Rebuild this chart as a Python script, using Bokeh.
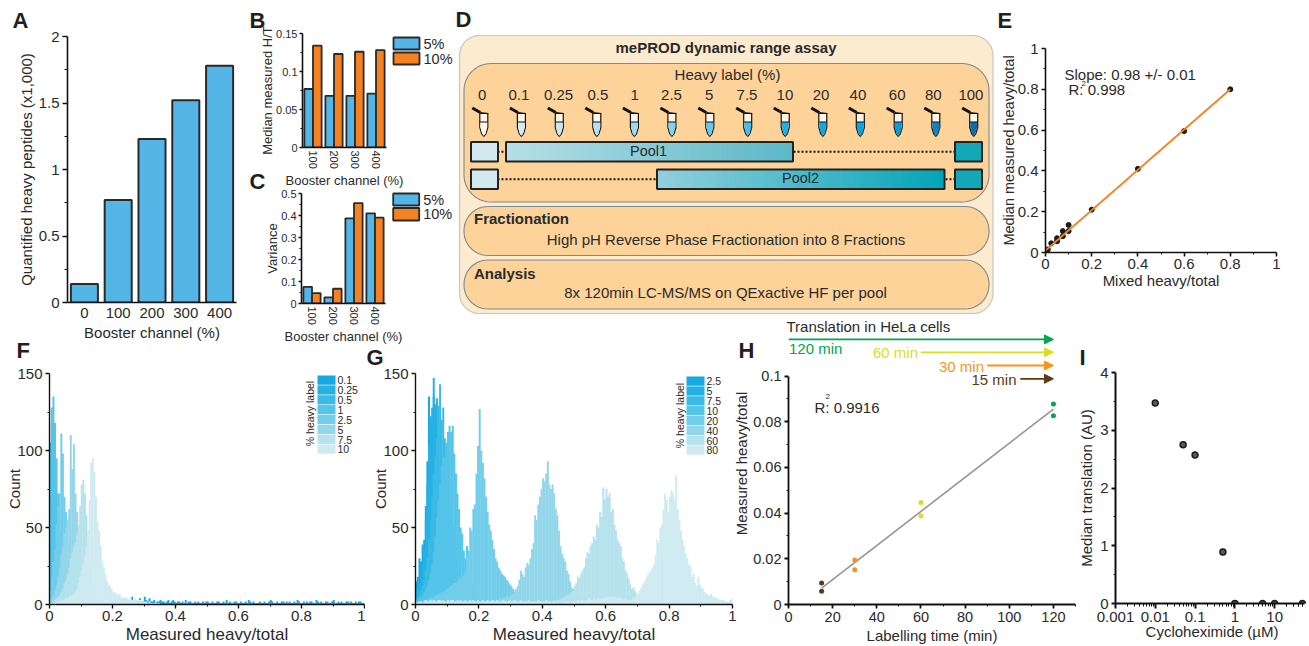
from bokeh.plotting import figure
from bokeh.models import (Column, FactorRange, Range1d, FixedTicker, Arrow, NormalHead)
from bokeh.transform import dodge
from bokeh.core.properties import value
from bokeh.embed import file_html
from bokeh.resources import INLINE
import math

FONT = "Liberation Sans"
INK = "#2a2a2a"
BLUE = "#54b5e7"
ORANGE = "#f58220"

# --- data ------------------------------------------------------------------
a_cats = ["0", "100", "200", "300", "400"]
a_vals = [0.14, 0.77, 1.23, 1.52, 1.78]
bc_cats = ["100", "200", "300", "400"]
b_5 = [0.077, 0.068, 0.068, 0.071]
b_10 = [0.134, 0.123, 0.126, 0.128]
c_5 = [0.076, 0.028, 0.387, 0.41]
c_10 = [0.047, 0.067, 0.456, 0.39]

e_x = [0.001, 0.01, 0.025, 0.05, 0.05, 0.075, 0.075, 0.1, 0.1, 0.2, 0.4, 0.6, 0.8]
e_y = [0.01, 0.015, 0.045, 0.055, 0.07, 0.08, 0.105, 0.105, 0.135, 0.21, 0.41, 0.595, 0.80]
e_fit_x = [0.0, 0.8]
e_fit_y = [0.01, 0.80]

h_t = [15, 15, 30, 30, 60, 60, 120, 120]
h_v = [0.0094, 0.0058, 0.0195, 0.0152, 0.0447, 0.0388, 0.0878, 0.0826]
h_colors = ["#603913", "#603913", "#f7941e", "#f7941e", "#d7df23", "#d7df23", "#00a651", "#00a651"]
h_fit_t = [15, 120]
h_fit_v = [0.0072, 0.0855]

i_x = [0.01, 0.05, 0.1, 0.5, 1, 5, 10, 50]
i_y = [3.47, 2.75, 2.57, 0.89, 0, 0, 0, 0]

BIN = 0.005
hist_colors = ["#17a9e1", "#27b1e3", "#3cbae6", "#55c4e9", "#71cdea", "#93d6ea", "#b5e2ec", "#cfebf1"]

f_labels = ["0.1", "0.25", "0.5", "1", "2.5", "5", "7.5", "10"]
f_01 = [70, 60, 30, 14, 8, 5, 3, 2, 2, 1, 1, 1, 1, 1, 1, 1, 1, 1, 1, 1, 1, 1, 1, 1, 1, 1, 1, 1, 1, 1, 1, 1, 1, 1, 1, 1, 1, 1, 1, 1,
        2, 1, 3, 2, 1, 2, 3, 1, 4, 2, 3, 2, 5, 3, 2, 3, 2, 4, 2, 2, 5, 3, 2, 4, 2, 2, 3, 1, 2, 2, 3, 2, 2, 1, 2, 3, 1, 2, 3, 2,
        1, 2, 2, 1, 2, 1, 3, 1, 2, 2, 1, 1, 2, 1, 2, 1, 1, 2, 1, 2, 2, 1, 1, 2, 1, 1, 2, 2, 1, 1, 2, 1, 3, 1, 2, 1, 1, 2, 2, 1,
        1, 2, 1, 1, 2, 1, 3, 2, 1, 2, 1, 1, 1, 2, 1, 1, 2, 1, 1, 2, 3, 2, 1, 1, 2, 1, 1, 2, 2, 1, 2, 1, 2, 1, 1, 2, 1, 3, 2, 1,
        1, 2, 1, 2, 1, 2, 2, 1, 1, 3, 2, 1, 2, 1, 1, 2, 2, 1, 1, 2, 3, 1, 1, 2, 1, 2, 1, 1, 2, 2, 1, 2, 1, 1, 2, 1, 2, 2, 1, 1]
f_025 = [90, 100, 70, 35, 15, 8, 4, 2, 1, 1]
f_05 = [105, 118, 100, 70, 35, 18, 9, 4, 2, 1]
f_1 = [100, 128, 135, 118, 95, 72, 48, 28, 14, 8, 5, 3, 2, 1]
f_25 = [10, 18, 28, 36, 52, 64, 72, 111, 98, 70, 60, 40, 28, 16, 10, 6, 4, 3, 2, 1]
f_5 = [3, 4, 6, 9, 12, 18, 24, 32, 38, 46, 50, 55, 62, 110, 88, 104, 72, 60, 45, 32, 20, 14, 10, 6, 4, 3, 2, 1]
f_75 = [1, 1, 2, 3, 4, 5, 6, 8, 10, 14, 16, 20, 24, 30, 34, 38, 40, 45, 52, 64, 78, 81, 72, 58, 42, 30, 22, 14, 9, 6, 4, 3, 2, 1]
f_10 = [1, 1, 1, 1, 2, 2, 2, 3, 3, 3, 4, 4, 5, 6, 6, 7, 8, 10, 14, 18, 22, 26, 32, 38, 48, 68, 92, 95, 86, 70, 54, 48, 38, 28,
        24, 20, 15, 13, 12, 10, 8, 8, 7, 6, 7, 5, 4, 5, 4, 4, 3, 4, 3, 3, 4, 3, 2, 3, 2, 2, 2, 2, 1, 2, 1, 1, 1, 1, 1, 1]
f_series = [f_01, f_025, f_05, f_1, f_25, f_5, f_75, f_10]
f_starts = [0, 0, 0, 0, 0, 0, 0, 0]

g_labels = ["2.5", "5", "7.5", "10", "20", "40", "60", "80"]
g_25 = [15, 18, 30, 28, 39, 42, 64, 93, 135, 122, 118, 135, 120, 108, 92, 70, 55, 40, 30, 22, 14, 10, 7, 5, 3, 2, 1, 1]
g_5 = [8, 10, 14, 18, 26, 36, 55, 78, 104, 122, 128, 147, 130, 134, 110, 92, 78, 60, 46, 32, 24, 15, 11, 8, 5, 3, 2, 1]
g_75 = [4, 5, 7, 9, 12, 16, 22, 30, 42, 55, 70, 85, 96, 108, 129, 143, 120, 128, 108, 104, 92, 80, 65, 52, 40, 30, 22, 16, 11, 8, 5, 3, 2, 1, 1]
g_10 = [3, 3, 4, 5, 6, 8, 10, 12, 16, 20, 26, 34, 44, 56, 68, 78, 90, 96, 95, 105, 112, 116, 112, 116, 98, 85, 72, 62, 50, 46, 35, 30, 38, 22, 18, 14, 10, 7, 5, 4, 3, 2, 2, 1]
g_20 = [1, 1, 2, 2, 2, 3, 3, 3, 4, 4, 5, 5, 6, 6, 7, 7, 8, 8, 9, 10, 10, 11, 12, 13, 14, 14, 15, 16, 17, 18, 19, 21, 32, 35, 50, 48, 62, 65, 85, 103,
        127, 100, 92, 82, 70, 60, 52, 48, 42, 36, 30, 28, 24, 22, 20, 19, 18, 16, 15, 13, 12, 10, 9, 8, 6, 5, 4, 3, 2, 2, 1, 1, 1]
g_40 = [1, 1, 1, 2, 1, 2, 2, 2, 2, 3, 2, 3, 3, 4, 3, 4, 4, 5, 5, 5, 6, 7, 9, 10, 12, 16, 22, 20, 18, 24, 27, 26, 30, 36, 40, 58, 55, 65, 70, 75,
        82, 80, 85, 93, 78, 75, 78, 72, 62, 58, 48, 38, 33, 30, 28, 22, 20, 15, 11, 10, 9, 7, 6, 5, 4, 4, 3, 2, 2, 1, 2, 1, 1]
g_60 = [1, 1, 1, 2, 1, 2, 2, 3, 2, 3, 3, 4, 4, 5, 5, 6, 6, 7, 8, 9, 12, 14, 18, 17, 20, 22, 24, 30, 34, 33, 38, 40, 44, 42, 52, 50, 60, 57, 76, 68,
        75, 70, 72, 60, 62, 52, 48, 42, 40, 38, 30, 28, 22, 20, 17, 13, 10, 11, 9, 7, 6, 5, 5, 4, 4, 3, 3, 2, 2, 1, 1, 1]
g_80 = [2, 1, 2, 2, 1, 2, 3, 2, 2, 3, 2, 3, 2, 2, 3, 3, 2, 3, 2, 2, 3, 2, 3, 3, 2, 2, 3, 2, 3, 2, 2, 3, 2, 2, 3, 2, 3, 2, 2, 3,
        2, 2, 3, 2, 2, 3, 2, 2, 3, 2, 2, 3, 2, 2, 2, 3, 2, 2, 2, 3, 2, 2, 3, 2, 2, 2, 3, 2, 2, 2, 2, 3, 2, 2, 2, 2, 2, 3, 2, 2,
        2, 2, 3, 2, 2, 1, 2, 2, 1, 2, 1, 1, 1, 2, 1, 2, 2, 1, 2, 2,
        2, 2, 3, 2, 3, 3, 2, 3, 3, 4, 3, 3, 4, 3, 4, 4, 3, 4, 4, 5, 4, 5, 5, 4, 5, 5, 4, 4, 5, 4, 4, 3, 4, 3, 3, 3,
        3, 4, 5, 6, 7, 9, 11, 13, 15, 17, 19, 21, 22, 24, 26, 32, 42, 40, 50, 52, 62, 72, 68, 60, 70, 74, 72, 68, 84, 62, 55, 48, 42, 38,
        33, 30, 26, 25, 18, 20, 14, 12, 18, 13, 11, 10, 8, 7, 6, 6, 7, 5, 5, 4, 4, 3, 3, 3, 3, 2, 2, 2, 3, 4]
g_series = [g_25, g_5, g_75, g_10, g_20, g_40, g_60, g_80]
g_starts = [0, 0, 0, 0, 0, 0.2, 0.4, 0]

d_labels = ["0", "0.1", "0.25", "0.5", "1", "2.5", "5", "7.5", "10", "20", "40", "60", "80", "100"]
d_tube_colors = ["#fff6e8", "#d4ecf4", "#c8e8f3", "#b5e2f0", "#9cdaef", "#83d2ee", "#66c9eb", "#46bee8",
                 "#1eb2e6", "#0cabe3", "#05a5e0", "#0b9ad8", "#0b84c6", "#0b6fae"]
h_arrow_labels = ["120 min", "60 min", "30 min", "15 min"]
h_arrow_times = [120, 60, 30, 15]
h_arrow_colors = ["#00a651", "#d7df23", "#f7941e", "#603913"]


# --- helpers ---------------------------------------------------------------
def make(box, frame, **kw):
    x0, y0, x1, y1 = box
    L, T, R, B = frame
    p = figure(width=x1 - x0, height=y1 - y0, frame_align=False,
               min_border_left=L - x0, min_border_right=x1 - R, min_border_top=T - y0, min_border_bottom=y1 - B,
               toolbar_location=None, output_backend="svg", outline_line_color=None,
               background_fill_color=None, border_fill_color=None,
               styles={"position": "absolute", "left": f"{x0}px", "top": f"{y0}px"}, **kw)
    p.grid.visible = False
    return p


def style_axis(ax, size="15px", label_size="15px", line=1.6, tick=5, minor=3, standoff=4, label_standoff=4):
    ax.axis_line_color = "#111111"
    ax.axis_line_width = line
    ax.major_tick_line_color = "#111111"
    ax.minor_tick_line_color = "#111111"
    ax.major_tick_line_width = line
    ax.minor_tick_line_width = 1
    ax.major_tick_in = 0
    ax.major_tick_out = tick
    ax.minor_tick_in = 0
    ax.minor_tick_out = minor
    ax.major_label_text_font = FONT
    ax.major_label_text_font_size = size
    ax.major_label_text_color = INK
    ax.major_label_standoff = standoff
    ax.axis_label_text_font = FONT
    ax.axis_label_text_font_size = label_size
    ax.axis_label_text_font_style = "normal"
    ax.axis_label_text_color = INK
    ax.axis_label_standoff = label_standoff


def ticks(ax, major, minor=()):
    ax.ticker = FixedTicker(ticks=list(major), minor_ticks=list(minor))
    ax.major_label_overrides = {t: (f"{t:g}") for t in major}


def bar_panel(box, frame, cats, top5, top10, ymax, ymajor, yminor, ylabel, xlabel):
    p = make(box, frame, x_range=FactorRange(*cats), y_range=Range1d(0, ymax))
    data = dict(c=cats, a=top5, b=top10)
    p.vbar(x=dodge("c", -0.205, range=p.x_range), top="a", width=0.41, source=data,
           fill_color=BLUE, line_color=INK, line_width=1.8)
    p.vbar(x=dodge("c", 0.205, range=p.x_range), top="b", width=0.41, source=data,
           fill_color=ORANGE, line_color=INK, line_width=1.8)
    style_axis(p.xaxis[0], size="11px", label_size="13px", tick=0, minor=0, standoff=3, label_standoff=1)
    style_axis(p.yaxis[0], size="11px", label_size="13px", tick=3, minor=2, standoff=2, label_standoff=-2)
    p.xaxis[0].major_label_orientation = "vertical"
    p.xaxis[0].axis_label = xlabel
    p.yaxis[0].axis_label = ylabel
    ticks(p.yaxis[0], ymajor, yminor)
    return p


def hist_panel(box, frame, series, starts):
    p = make(box, frame, x_range=Range1d(0, 1), y_range=Range1d(0, 150))
    for vals, st, col in zip(series, starts, hist_colors):
        xs = [st + BIN * (i + 0.5) for i in range(len(vals))]
        p.vbar(x=xs, top=vals, width=BIN * 1.25, fill_color=col, line_color=None)
    style_axis(p.xaxis[0], size="15px", label_size="17px", tick=4, minor=2, standoff=2, label_standoff=1, line=1.4)
    style_axis(p.yaxis[0], size="15px", label_size="15px", tick=4, minor=2, standoff=3, label_standoff=-9, line=1.4)
    p.xaxis[0].axis_label = "Measured heavy/total"
    p.yaxis[0].axis_label = "Count"
    ticks(p.xaxis[0], [0, 0.2, 0.4, 0.6, 0.8, 1], [0.1, 0.3, 0.5, 0.7, 0.9])
    ticks(p.yaxis[0], [0, 50, 100, 150], [25, 75, 125])
    return p


# --- A ---------------------------------------------------------------------
pA = make((0, 8, 250, 346), (67, 36, 236, 302), x_range=FactorRange(*a_cats), y_range=Range1d(0, 2))
pA.vbar(x=a_cats, top=a_vals, width=0.8, fill_color=BLUE, line_color=INK, line_width=2)
style_axis(pA.xaxis[0], tick=0, minor=0, standoff=5, label_standoff=3, label_size="15px")
style_axis(pA.yaxis[0], tick=5, minor=3, standoff=3, label_standoff=1, label_size="15px")
pA.xaxis[0].axis_label = "Booster channel (%)"
pA.yaxis[0].axis_label = "Quantified heavy peptides (x1,000)"
ticks(pA.yaxis[0], [0, 0.5, 1, 1.5, 2], [0.25, 0.75, 1.25, 1.75])

# --- B, C ------------------------------------------------------------------
pB = bar_panel((250, 8, 420, 190), (302, 33, 386, 148), bc_cats, b_5, b_10, 0.15,
               [0, 0.05, 0.1, 0.15], [0.025, 0.075, 0.125], "Median measured H/T", "Booster channel (%)")
pC = bar_panel((250, 170, 420, 346), (301, 193, 385, 307), bc_cats, c_5, c_10, 0.5,
               [0, 0.1, 0.2, 0.3, 0.4, 0.5], [0.05, 0.15, 0.25, 0.35, 0.45], "Variance", "Booster channel (%)")

# --- E ---------------------------------------------------------------------
pE = make((995, 8, 1301, 300), (1045, 48, 1276, 252), x_range=Range1d(0, 1), y_range=Range1d(0, 1))
pE.scatter(e_x, e_y, size=5, fill_color="#1a1a1a", line_color="#1a1a1a")
pE.line(e_fit_x, e_fit_y, line_color=ORANGE, line_width=1.8)
style_axis(pE.xaxis[0], tick=4, minor=2, standoff=2, label_standoff=0, label_size="15px")
style_axis(pE.yaxis[0], tick=4, minor=2, standoff=3, label_standoff=-2, label_size="14.5px")
pE.xaxis[0].axis_label = "Mixed heavy/total"
pE.yaxis[0].axis_label = "Median measured heavy/total"
for ax in (pE.xaxis[0], pE.yaxis[0]):
    ticks(ax, [0, 0.2, 0.4, 0.6, 0.8, 1], [0.1, 0.3, 0.5, 0.7, 0.9])

# --- F, G ------------------------------------------------------------------
pF = hist_panel((0, 342, 365, 646), (49, 373, 364, 607), f_series, f_starts)
pG = hist_panel((365, 342, 740, 646), (415, 373, 732, 607), g_series, g_starts)

# --- H ---------------------------------------------------------------------
H_TOP = 0.1 * (606 - 322) / (606 - 376)
pH = make((710, 318, 1080, 646), (788, 322, 1075, 606), x_range=Range1d(0, 130), y_range=Range1d(0, H_TOP))
pH.line(h_fit_t, h_fit_v, line_color="#939598", line_width=1.6)
pH.scatter(h_t, h_v, size=5, fill_color=h_colors, line_color=None)
style_axis(pH.xaxis[0], size="14.5px", tick=4, minor=2, standoff=3, label_standoff=2, label_size="15px", line=1.8)
style_axis(pH.yaxis[0], size="14.5px", tick=4, minor=2, standoff=3, label_standoff=0, label_size="15px", line=1.8)
pH.xaxis[0].axis_label = "Labelling time (min)"
pH.yaxis[0].axis_label = "Measured heavy/total"
ticks(pH.xaxis[0], [0, 20, 40, 60, 80, 100, 120], [10, 30, 50, 70, 90, 110, 130])
ticks(pH.yaxis[0], [0, 0.02, 0.04, 0.06, 0.08, 0.1], [0.01, 0.03, 0.05, 0.07, 0.09])
pH.yaxis[0].bounds = (0, 0.1)
for t, c, px_y in zip(h_arrow_times, h_arrow_colors, [339, 352, 365.3, 378.7]):
    yv = 0.1 * (606 - px_y) / (606 - 376)
    pH.add_layout(Arrow(end=NormalHead(size=9, fill_color=c, line_color=c), line_color=c, line_width=1.8,
                        x_start=120 - t, y_start=yv, x_end=120, y_end=yv))

# --- I ---------------------------------------------------------------------
pI = make((1075, 342, 1309, 646), (1114, 372, 1308, 603), x_axis_type="log",
          x_range=Range1d(0.001, 70.8), y_range=Range1d(0, 4))
pI.scatter(i_x, i_y, size=6, fill_color="#58595b", line_color="#1a1a1a", line_width=1.5)
style_axis(pI.xaxis[0], tick=5, minor=3, standoff=3, label_standoff=-2, label_size="15px", line=2)
style_axis(pI.yaxis[0], tick=4, minor=2, standoff=3, label_standoff=2, label_size="15px", line=2)
pI.xaxis[0].axis_label = "Cycloheximide (µM)"
pI.yaxis[0].axis_label = "Median translation (AU)"
i_major = [0.001, 0.01, 0.1, 1, 10]
i_minor = [m * d for d in i_major for m in (2, 3, 4, 5, 6, 7, 8, 9)] + [20, 30, 40, 50]
i_minor = [v for v in i_minor if v <= 56]
ticks(pI.xaxis[0], i_major, i_minor)
pI.xaxis[0].bounds = (0.001, 56)
ticks(pI.yaxis[0], [0, 1, 2, 3, 4], [0.5, 1.5, 2.5, 3.5])

# --- page sheet: schematic D, panel letters, legends and notes, in page pixels ---
pO = figure(width=1293, height=630, min_border=0, frame_align=False, x_range=Range1d(0, 1293), y_range=Range1d(630, 0),
            x_axis_type=None, y_axis_type=None, toolbar_location=None, output_backend="svg",
            outline_line_color=None, background_fill_color=None, border_fill_color=None,
            styles={"position": "absolute", "left": "0px", "top": "0px", "pointer-events": "none"})


def put(x, y, text, size=15, bold=False, color=INK, align="center", angle=0.0):
    pO.text(x=[x], y=[y], text=[text], text_font=value(FONT), text_font_size=value(f"{size}px"),
            text_font_style="bold" if bold else "normal", text_color=color, text_align=align,
            text_baseline="middle", angle=angle)


def rrect(x0, y0, x1, y1, r, fill, line, lw=1.2):
    xs, ys = [], []
    for cx, cy, a0 in [(x1 - r, y0 + r, -90), (x1 - r, y1 - r, 0), (x0 + r, y1 - r, 90), (x0 + r, y0 + r, 180)]:
        for k in range(13):
            a = math.radians(a0 + k * 7.5)
            xs.append(cx + r * math.cos(a))
            ys.append(cy + r * math.sin(a))
    pO.patch(xs, ys, fill_color=fill, line_color=line, line_width=lw)


def mix(c0, c1, f):
    a = [int(c0[i:i + 2], 16) for i in (1, 3, 5)]
    b = [int(c1[i:i + 2], 16) for i in (1, 3, 5)]
    return "#%02x%02x%02x" % tuple(round(u + (v - u) * f) for u, v in zip(a, b))


def gradbar(x0, x1, y0, y1, c0, c1):
    n = 48
    w = (x1 - x0) / n
    pO.quad(left=[x0 + i * w for i in range(n)], right=[min(x0 + (i + 1) * w + 1, x1) for i in range(n)],
            top=[y0] * n, bottom=[y1] * n, fill_color=[mix(c0, c1, i / (n - 1)) for i in range(n)], line_color=None)
    pO.quad(left=[x0], right=[x1], top=[y0], bottom=[y1], fill_color=None, line_color="#222222", line_width=2)


rrect(459, 35, 992.5, 313, 20, "#fdebd0", "#c9c6bf", 1.2)
rrect(463.5, 63, 988.5, 201.5, 27, "#fdd39a", "#7d8a90", 1.1)
rrect(463.5, 206, 988.5, 255, 24, "#fdd39a", "#7d8a90", 1.1)
rrect(463.5, 259.5, 988.5, 308.5, 24, "#fdd39a", "#7d8a90", 1.1)
put(725.5, 47, "mePROD dynamic range assay", bold=True)
put(727, 74, "Heavy label (%)")
label_x = [481.6, 518.4, 558, 597.4, 634.2, 671, 708.6, 746.5, 784.4, 820.5, 857.4, 896.7, 932.8, 970.4]
tube_x = [483.3, 520.9, 558.8, 596.3, 633.9, 671.4, 709.3, 747.2, 784.7, 822.3, 859.8, 897.7, 935.3, 973.2]
for lx, tx, lab, col in zip(label_x, tube_x, d_labels, d_tube_colors):
    put(lx, 94, lab)
    pO.patch([tx - 4, tx + 4, tx + 4, tx + 2, tx, tx - 2, tx - 4], [113, 113, 127, 133.5, 136, 133.5, 127],
             fill_color="#fff6e8", line_color="#111111", line_width=1.2)
    pO.patch([tx - 3.4, tx + 3.4, tx + 3.4, tx + 1.7, tx, tx - 1.7, tx - 3.4], [121.5, 121.5, 127, 133, 135.2, 133, 127],
             fill_color=col, line_color=None)
    pO.line([tx - 4, tx + 4], [121.5, 121.5], line_color="#111111", line_width=1)
    pO.line([tx - 11.5, tx - 3.5], [107.5, 112], line_color="#111111", line_width=3)
    pO.line([tx - 3.5, tx + 4.5], [112, 113], line_color="#111111", line_width=1.2)

for y0, y1 in [(141.5, 161), (169, 188.5)]:
    ym = (y0 + y1) / 2
    pO.line([497, 954], [ym, ym], line_color="#111111", line_width=2, line_dash="2 2")
    pO.quad(left=[470.5], right=[497.5], top=[y0], bottom=[y1], fill_color="#d2e9f0", line_color="#222222", line_width=2)
    pO.quad(left=[954.5], right=[981.5], top=[y0], bottom=[y1], fill_color="#14a7b8", line_color="#222222", line_width=2)
gradbar(505.5, 792.5, 141.5, 161, "#b6dfe7", "#5cb8c8")
gradbar(656.5, 944, 169, 188.5, "#92cfdb", "#05a5b8")
put(648, 150, "Pool1", size=14.5)
put(800, 177.5, "Pool2", size=14.5)
put(473.5, 218, "Fractionation", bold=True, align="left")
put(725.5, 239, "High pH Reverse Phase Fractionation into 8 Fractions")
put(473.5, 273, "Analysis", bold=True, align="left")
put(725, 292, "8x 120min LC-MS/MS on QExactive HF per pool")

# legends of B and C
for (sx, top1, bot1, top2, bot2) in [(393, 37, 49, 52, 64), (392.7, 193, 205, 207.5, 220)]:
    pO.quad(left=[sx], right=[sx + 26], top=[top1], bottom=[bot1], fill_color=BLUE, line_color=INK, line_width=1.8)
    pO.quad(left=[sx], right=[sx + 26], top=[top2], bottom=[bot2], fill_color=ORANGE, line_color=INK, line_width=1.8)
    put(sx + 30, (top1 + bot1) / 2, "5%", size=14.5, align="left")
    put(sx + 30, (top2 + bot2) / 2, "10%", size=14.5, align="left")

# legends of F and G
for sx, sy, labels, tx, ty in [(317, 375, f_labels, 309, 413), (686, 376, g_labels, 679, 415)]:
    for k, (col, lab) in enumerate(zip(hist_colors, labels)):
        pO.quad(left=[sx], right=[sx + 18], top=[sy + k * 9.85], bottom=[sy + (k + 1) * 9.85 - 0.6],
                fill_color=col, line_color=None)
        put(sx + 20, sy + (k + 0.5) * 9.85, lab, size=10.5, align="left")
    put(tx, ty, "% heavy label", size=10.5, angle=math.pi / 2)

put(1064, 74, "Slope: 0.98 +/- 0.01", size=15, align="left")
put(1068, 89, "R: 0.998", size=15, align="left")
put(1081, 83, "2", size=8, align="left")

put(786, 326, "Translation in HeLa cells", size=15, align="left")
put(788.5, 348, h_arrow_labels[0], size=15, color=h_arrow_colors[0], align="left")
put(917.5, 352, h_arrow_labels[1], size=15, color=h_arrow_colors[1], align="right")
put(983.5, 365.5, h_arrow_labels[2], size=15, color=h_arrow_colors[2], align="right")
put(1016, 379, h_arrow_labels[3], size=15, color=h_arrow_colors[3], align="right")
put(814, 407, "R: 0.9916", size=15, align="left")
put(825, 396, "2", size=8, align="left")

for lx, ly, name in [(12, 20, "A"), (249, 20, "B"), (249, 181, "C"), (455, 19, "D"), (997, 20, "E"),
                     (16, 350, "F"), (366, 357, "G"), (738, 350, "H"), (1079, 357, "I")]:
    put(lx, ly, name, size=22, bold=True, color="#231f20", align="left")

root = Column(children=[pA, pB, pC, pE, pF, pG, pH, pI, pO], width=1293, height=630,
              sizing_mode="fixed", margin=0)
open("out.html", "w").write(file_html(root, INLINE))
